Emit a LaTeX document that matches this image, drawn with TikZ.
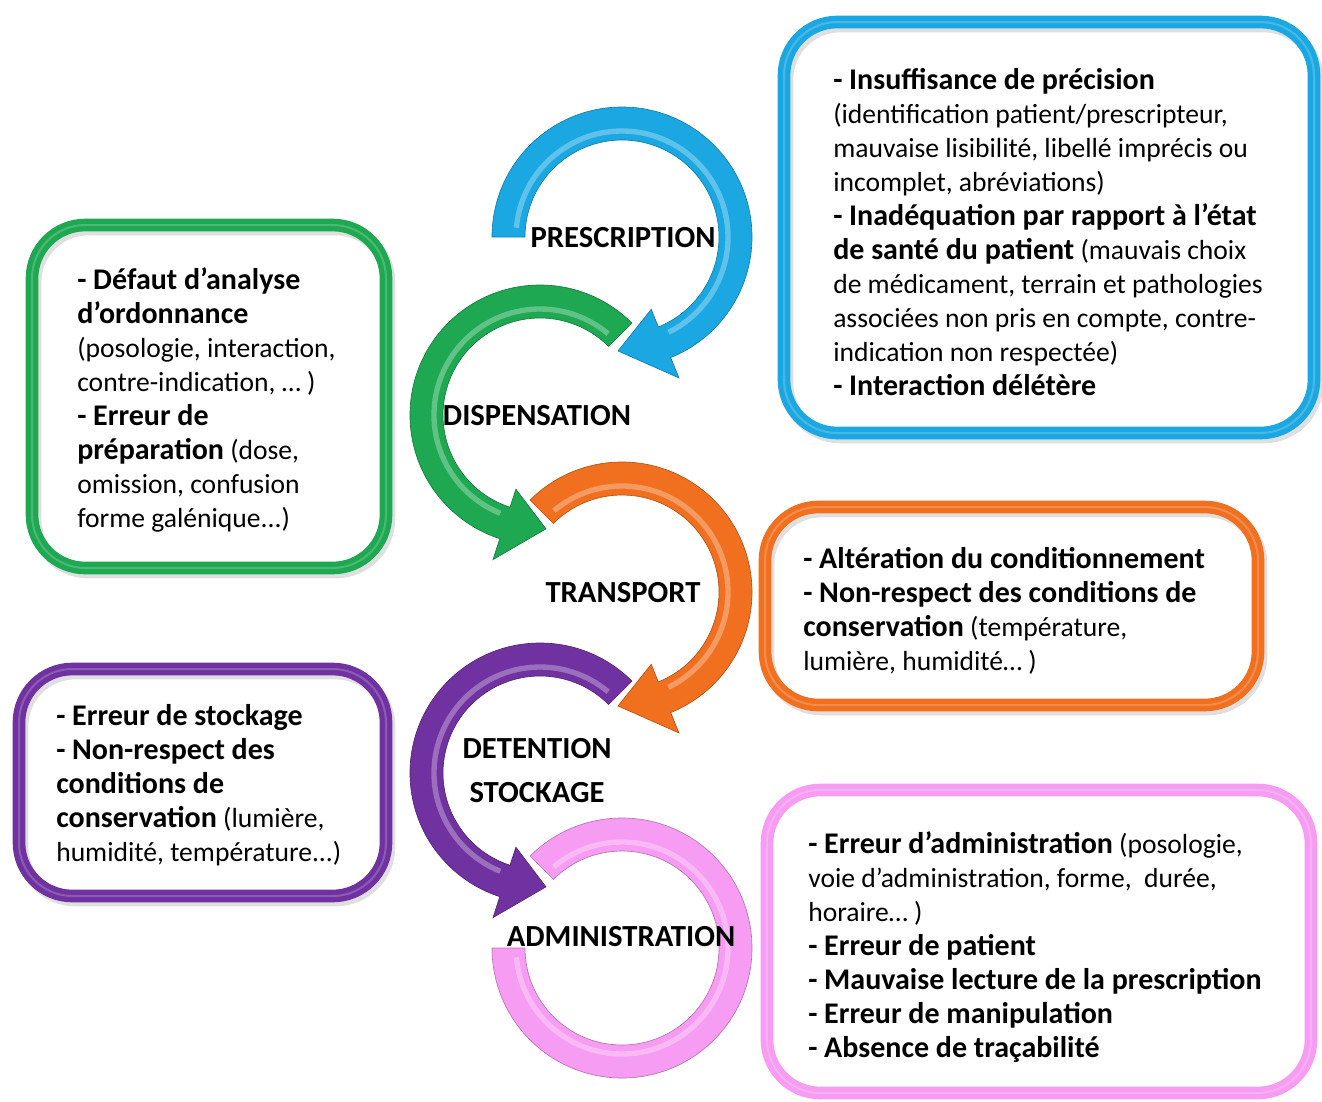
\documentclass[tikz,border=0pt]{standalone}
\usepackage{fontspec}
\setmainfont{Carlito}
\definecolor{bleu}{RGB}{27,168,226}
\definecolor{vert}{RGB}{30,168,82}
\definecolor{orangec}{RGB}{240,112,32}
\definecolor{vio}{RGB}{112,50,160}
\definecolor{ros}{RGB}{246,156,242}
\newcommand{\gras}[1]{{\fontsize{22.5}{25.5}\bfseries\selectfont #1}}
\begin{document}
\begin{tikzpicture}[x=0.75pt,y=0.75pt,
    cadre/.style={draw=#1, line width=9.5pt, rounded corners=40pt},
    ombre/.style={draw=black!25, line width=9.5pt, rounded corners=40pt, opacity=.5},
    brille/.style={draw=white, line width=1.5pt, rounded corners=40pt, opacity=.2},
    fleche/.style={fill=#1, draw=#1!75!black, line width=.5pt},
    reflet/.style={draw=white, line width=4pt, opacity=.3},
    texte/.style={anchor=north west, inner sep=0pt, align=left, font=\fontsize{20.7}{25.5}\selectfont},
    etape/.style={inner sep=0pt, align=center, font=\bfseries\fontsize{23}{33}\selectfont}]
\useasboundingbox (0,0) rectangle (1322,-1101);
                    % \helpgrid
                    % les cadres
                    \draw[ombre] (787,-26) rectangle (1317,-437);
                    \draw[cadre=bleu] (784,-22) rectangle (1314,-433);
                    \draw[brille] (784,-22) rectangle (1314,-433);
                    \draw[ombre] (35,-229) rectangle (389,-572);
                    \draw[cadre=vert] (32,-225) rectangle (386,-568);
                    \draw[brille] (32,-225) rectangle (386,-568);
                    \draw[ombre] (768,-511) rectangle (1261,-709);
                    \draw[cadre=orangec] (765,-507) rectangle (1258,-705);
                    \draw[brille] (765,-507) rectangle (1258,-705);
                    \draw[ombre] (22,-673) rectangle (389,-900);
                    \draw[cadre=vio] (19,-669) rectangle (386,-896);
                    \draw[brille] (19,-669) rectangle (386,-896);
                    \draw[cadre=ros] (767,-790) rectangle (1311,-1093);
                    \draw[brille] (767,-790) rectangle (1311,-1093);

                    % les fleches
                    \begin{scope}[shift={(622,-948)}]
                    \filldraw[fleche=ros] (135:130) arc[start angle=135,end angle=-180,radius=130] -- (180:97) arc[start angle=-180,end angle=135,radius=97] -- cycle;
                    \draw[reflet] (130:106) arc[start angle=130,end angle=-175,radius=106];
                    \end{scope}
                    \begin{scope}[shift={(540,-773)}]
                    \filldraw[fleche=vio] (45:130) arc[start angle=45,end angle=252,radius=130] -- (252:152) -- (273:114) -- (252:78) -- (252:97) arc[start angle=252,end angle=45,radius=97] -- cycle;
                    \draw[reflet] (50:106) arc[start angle=50,end angle=248,radius=106];
                    \end{scope}
                    \begin{scope}[shift={(622,-592)}]
                    \filldraw[fleche=orangec] (135:130) arc[start angle=135,end angle=-68,radius=130] -- (-68:152) -- (-92:114) -- (-68:78) -- (-68:97) arc[start angle=-68,end angle=135,radius=97] -- cycle;
                    \draw[reflet] (130:106) arc[start angle=130,end angle=-64,radius=106];
                    \end{scope}
                    \begin{scope}[shift={(540,-415)}]
                    \filldraw[fleche=vert] (45:130) arc[start angle=45,end angle=252,radius=130] -- (252:152) -- (273:114) -- (252:78) -- (252:97) arc[start angle=252,end angle=45,radius=97] -- cycle;
                    \draw[reflet] (50:106) arc[start angle=50,end angle=248,radius=106];
                    \end{scope}
                    \begin{scope}[shift={(622,-237)}]
                    \filldraw[fleche=bleu] (180:130) arc[start angle=180,end angle=-68,radius=130] -- (-68:152) -- (-92:114) -- (-68:78) -- (-68:97) arc[start angle=-68,end angle=180,radius=97] -- cycle;
                    \draw[reflet] (175:106) arc[start angle=175,end angle=-64,radius=106];
                    \end{scope}

                    % les etapes
                    \node[etape] (presc) at (623,-238) {PRESCRIPTION};
                    \node[etape] (disp) at (537,-416) {DISPENSATION};
                    \node[etape] (transp) at (623,-593) {TRANSPORT};
                    \node[etape] (deten) at (537,-771) {DETENTION\\STOCKAGE};
                    \node[etape] (admin) at (621,-937) {ADMINISTRATION};

                    % les erreurs
                    \node[texte] (tpresc) at (833,-68) {\gras{- Insuffisance de précision}\\(identification patient/prescripteur,\\mauvaise lisibilité, libellé imprécis ou\\incomplet, abréviations)\\\gras{- Inadéquation par rapport à l’état}\\\gras{de santé du patient} (mauvais choix\\de médicament, terrain et pathologies\\associées non pris en compte, contre-\\indication non respectée)\\\gras{- Interaction délétère}};
                    \node[texte] (tdisp) at (77,-267) {\gras{- Défaut d’analyse}\\\gras{d’ordonnance}\\(posologie, interaction,\\contre-indication, … )\\\gras{- Erreur de}\\\gras{préparation} (dose,\\omission, confusion\\forme galénique...)};
                    \node[texte] (ttransp) at (803,-547) {\gras{- Altération du conditionnement}\\\gras{- Non-respect des conditions de}\\\gras{conservation} (température,\\lumière, humidité… )};
                    \node[texte] (tdeten) at (56,-704) {\gras{- Erreur de stockage}\\\gras{- Non-respect des}\\\gras{conditions de}\\\gras{conservation} (lumière,\\humidité, température...)};
                    \node[texte] (tadmin) at (808,-831) {\gras{- Erreur d’administration} (posologie,\\voie d’administration, forme,~ durée,\\horaire… )\\\gras{- Erreur de patient}\\\gras{- Mauvaise lecture de la prescription}\\\gras{- Erreur de manipulation}\\\gras{- Absence de traçabilité}};
\end{tikzpicture}
\end{document}
